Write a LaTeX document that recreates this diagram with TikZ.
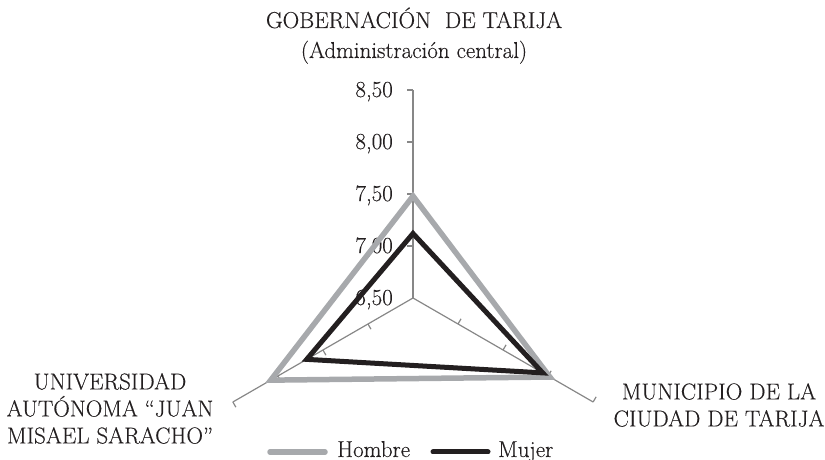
\documentclass[tikz,border=0pt]{standalone}
\usepackage{fontspec}
\setmainfont{Latin Modern Roman}[FakeBold=0.3]
\usepackage{tikz}
\definecolor{hombregray}{HTML}{A7A9AC}
\definecolor{mujerblack}{HTML}{231F20}
\definecolor{axisgray}{HTML}{878787}
% value on the radar -> distance from the centre
\newcommand{\rv}[1]{{((#1) - 6.5) * 104}}

\begin{document}
\begin{tikzpicture}[x=1pt, y=1pt,
        media/.style={font={\fontsize{23}{27}\selectfont}, inner sep=0pt, text=mujerblack},
        axisline/.style={axisgray, line width=1.2pt},
        hombre/.style={hombregray, line width=5.5pt},
        mujer/.style={mujerblack, line width=5pt},
        ]
        \useasboundingbox (0,0) rectangle (825,460);

        % centre of the radar
        \coordinate (O) at (413,162);

        % axes with ticks
        \foreach \ang in {90,-30,210}{
            \draw[axisline] (O) -- ++(\ang:208) coordinate (end\ang);
            \foreach \k in {1,...,4}
                \draw[axisline] (O) ++(\ang:\k*52) -- ++(\ang+90:6);
        }

        % scale
        \foreach \v [count=\k from 0] in {{6,50},{7,00},{7,50},{8,00},{8,50}}
            \draw[media] (393, {155 + \k*52}) node[anchor=base east] (val\k) {\v};

        % Hombre
        \draw[hombre, shift={(O)}] (90:\rv{7.48}) -- (-30:\rv{8.02}) -- (210:\rv{8.08}) -- cycle;
        % Mujer
        \draw[mujer, shift={(O)}] (90:\rv{7.12}) -- (-30:\rv{7.94}) -- (210:\rv{7.68}) -- cycle;

        % axis names
        \draw[media] (414, 432) node[anchor=base] (gob) {GOBERNACIÓN\ \ DE TARIJA};
        \draw[media] (414, 402) node[anchor=base] (admin) {(Administración central)};
        \draw[media] (110, 87) node[anchor=north, align=center] (uajms)
            {UNIVERSIDAD\\AUTÓNOMA “JUAN\\MISAEL SARACHO”};
        \draw[media] (719, 77) node[anchor=north, align=center] (muni)
            {MUNICIPIO DE LA\\CIUDAD DE TARIJA};

        % legend
        \coordinate (hA) at (270, 8);
        \coordinate (hB) at (325, 8);
        \coordinate (mA) at (433, 8);
        \coordinate (mB) at (488, 8);
        \draw[hombre, line cap=round] (hA) -- (hB);
        \draw[mujer, line cap=round] (mA) -- (mB);
        \draw[media] (337, 3) node[anchor=base west] (hlab) {Hombre};
        \draw[media] (498, 3) node[anchor=base west] (mlab) {Mujer};
\end{tikzpicture}
\end{document}
